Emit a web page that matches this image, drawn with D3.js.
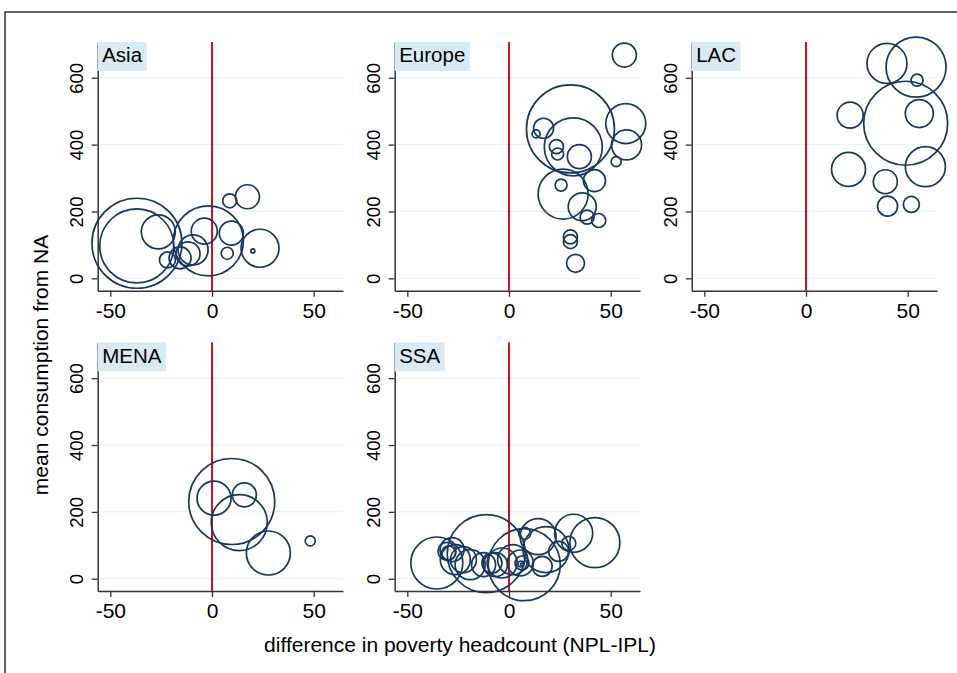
<!DOCTYPE html>
<html><head><meta charset="utf-8">
<script src="https://cdn.jsdelivr.net/npm/d3@7"></script>
<style>body{margin:0;background:#fff}svg{display:block}text{font-family:"Liberation Sans",Arial,Helvetica,sans-serif}</style>
</head><body><svg id="c" width="957" height="673"></svg>
<script>
// Region names (panel titles)
const regions = ["Asia", "Europe", "LAC", "MENA", "SSA"];
// Tick values
const xTicks = [-50, 0, 50];
const yTicks = [0, 200, 400, 600];
// Points: [difference in poverty headcount (NPL-IPL), mean consumption from NA, weight]
const asia = [[-36.9,105,2025],[-37,97,1369],[-26.4,139,289],[-21.9,55,64],[-11.8,73,144],[-9.3,85,225],[-15.7,61,121],[-1.8,112,1225],[-3.8,141,169],[9.5,135,144],[7.5,75,36],[23.6,90,361],[20.1,82,4],[8.7,232,49],[17.4,244,144]];
const europe = [[56.7,668,144],[30.2,447,1936],[57.4,463,400],[57.8,399,225],[31.6,393,841],[17,449,100],[13.3,432,16],[23.3,394,49],[23.9,372,36],[34.6,364,144],[52.7,349,25],[42,292,121],[26.6,252,625],[25.6,279,36],[36,214,196],[38.4,183,49],[44.1,173,49],[30.2,124,49],[30.2,110,49],[32.7,45,81]];
const lac = [[39.8,643,400],[54.1,632,900],[54.6,593,36],[49,464,1764],[21.7,488,169],[55.7,493,196],[20.9,326,289],[58.7,334,400],[39,289,144],[40.1,216,100],[51.8,221,64]];
const mena = [[9.7,231,1849],[1,241,289],[15.9,251,144],[13.4,168,784],[27.7,77,484],[48.3,113,25]];
const ssa = [[-35.5,47,676],[-11.2,75,1521],[7.5,42,1296],[14.3,126,324],[7.7,136,36],[31.8,136,361],[42.2,108,625],[29.4,106,49],[24.4,82,100],[18.2,87,529],[16.3,37,100],[6.4,47,49],[5.9,44,9],[6.4,43,2],[-30.5,82,81],[-29.7,77,49],[-28,87,144],[-26.4,57,225],[-22.4,57,169],[-19.1,42,225],[-12.5,42,144],[-8.4,47,100],[-6.7,42,144],[-3.4,47,225],[1.8,57,225],[5.6,47,169]];
const panelData = [asia, europe, lac, mena, ssa];

const svg = d3.select("#c");
svg.append("rect").attr("width",957).attr("height",673).attr("fill","#fff");
svg.append("rect").attr("x",5).attr("y",12).attr("width",1000).attr("height",700)
  .attr("fill","none").attr("stroke","#111").attr("stroke-width",1.3);

const colOff = [0, 297, 594], rowOff = [0, 300.4];
const x = d3.scaleLinear().domain([-56.2, 64.4]).range([97.7, 343]);
const y = d3.scaleLinear().domain([-37, 707]).range([290.7, 42]);
const r = d3.scaleSqrt().domain([0, 2500]).range([0, 50]);
const fmt = d => String(d);

regions.forEach((name, i) => {
  const g = svg.append("g").attr("transform", `translate(${colOff[i%3]},${rowOff[Math.floor(i/3)]})`);
  g.selectAll("line.grid").data(yTicks).join("line")
    .attr("x1", x.range()[0]).attr("x2", x.range()[1])
    .attr("y1", d => y(d)).attr("y2", d => y(d))
    .attr("stroke", "#e6f3f6").attr("stroke-width", 1);
  g.append("line").attr("x1", x(0)).attr("x2", x(0)).attr("y1", y.range()[1]).attr("y2", y.range()[0])
    .attr("stroke", "#d0121b").attr("stroke-width", 2);
  g.selectAll("circle").data(panelData[i]).join("circle")
    .attr("cx", d => x(d[0])).attr("cy", d => y(d[1])).attr("r", d => r(d[2]))
    .attr("fill", "none").attr("stroke", "#17375f").attr("stroke-width", 1.7);
  const ya = g.append("g").attr("transform", `translate(${x.range()[0]},0)`)
    .call(d3.axisLeft(y).tickValues(yTicks).tickFormat(fmt).tickSize(6).tickSizeOuter(0));
  ya.selectAll("text").attr("transform", "rotate(-90)").attr("x", 0).attr("y", -15).attr("dy", 0)
    .style("text-anchor", "middle").style("font-size", "18.5px").attr("fill", "#000");
  const xa = g.append("g").attr("transform", `translate(0,${y.range()[0]})`)
    .call(d3.axisBottom(x).tickValues(xTicks).tickFormat(fmt).tickSize(6).tickSizeOuter(0).tickPadding(6));
  xa.selectAll("text").style("font-size", "21px").attr("fill", "#000");
  [ya, xa].forEach(a => {
    a.select(".domain").attr("stroke", "#333").attr("stroke-width", 1.5);
    a.selectAll(".tick line").attr("stroke", "#333").attr("stroke-width", 1.3);
  });
  const lbl = g.append("g");
  const t = lbl.append("text").attr("x", x.range()[0] + 4.5).attr("y", 62.3)
    .style("font-size", "20.5px").attr("fill", "#000").text(name);
  const w = t.node().getComputedTextLength();
  lbl.insert("rect", "text").attr("x", x.range()[0]).attr("y", 42).attr("width", w + 9).attr("height", 29)
    .attr("fill", "#d9eaf4");
});

svg.append("text").attr("transform", "translate(48,365) rotate(-90)").attr("text-anchor", "middle")
  .style("font-size", "21px").attr("fill", "#000").text("mean consumption from NA");
svg.append("text").attr("x", 460).attr("y", 652).attr("text-anchor", "middle")
  .style("font-size", "21px").attr("fill", "#000").text("difference in poverty headcount (NPL-IPL)");
</script></body></html>
